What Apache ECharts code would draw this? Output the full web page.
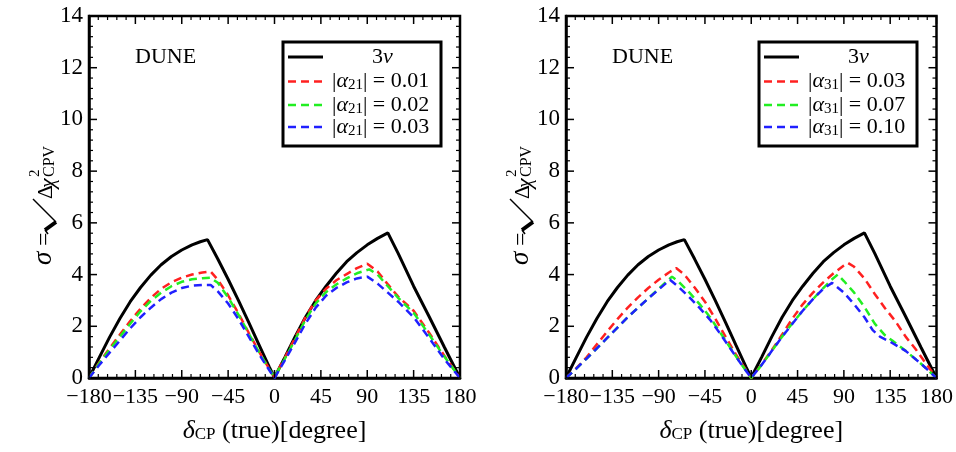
<!DOCTYPE html>
<html>
<head>
<meta charset="utf-8">
<script src="https://cdn.jsdelivr.net/npm/echarts@6/dist/echarts.min.js"></script>
<style>
  html, body { margin: 0; background: #fff; }
  #chart { width: 956px; height: 452px; }
</style>
</head>
<body>
<div id="chart"></div>
<script>
// x ticks (degrees), y ticks
var xTicks = [-180, -135, -90, -45, 0, 45, 90, 135, 180]
var yTicks = [0, 2, 4, 6, 8, 10, 12, 14]

// standard 3nu curve (same in both panels), [deltaCP, sigma]
var nu3 = [[-180, 0], [-170, 0.8], [-160, 1.58], [-150, 2.3], [-140, 2.95], [-130, 3.5], [-120, 3.98],
  [-110, 4.38], [-100, 4.7], [-90, 4.95], [-80, 5.15], [-72, 5.27], [-65, 5.35], [-55, 4.6], [-45, 3.82],
  [-35, 3.0], [-25, 2.15], [-15, 1.28], [-5, 0.42], [0, 0.02], [10, 0.8], [20, 1.6], [30, 2.35],
  [40, 3.0], [50, 3.55], [60, 4.05], [70, 4.5], [80, 4.85], [90, 5.15], [100, 5.4], [110, 5.61],
  [120, 4.82], [135, 3.55], [150, 2.38], [165, 1.18], [180, 0]]

// left panel, |alpha21|
var a21_001 = [[-180, 0], [-170, 0.6], [-160, 1.15], [-150, 1.68], [-140, 2.2], [-130, 2.68], [-120, 3.1],
  [-110, 3.45], [-100, 3.7], [-90, 3.88], [-80, 4.0], [-70, 4.08], [-62, 4.12], [-55, 3.8], [-45, 3.2],
  [-35, 2.5], [-25, 1.75], [-15, 1.02], [-5, 0.35], [0, 0.05], [10, 0.78], [20, 1.55], [30, 2.35],
  [40, 3.0], [50, 3.45], [60, 3.78], [70, 4.02], [80, 4.25], [90, 4.42], [100, 4.12], [110, 3.62],
  [120, 3.15], [135, 2.6], [150, 1.75], [165, 0.85], [180, 0]]
var a21_002 = [[-180, 0], [-170, 0.57], [-160, 1.1], [-150, 1.6], [-140, 2.1], [-130, 2.58], [-120, 2.98],
  [-110, 3.3], [-100, 3.55], [-90, 3.72], [-80, 3.82], [-70, 3.86], [-62, 3.88], [-55, 3.68], [-45, 3.12],
  [-35, 2.45], [-25, 1.72], [-15, 1.0], [-5, 0.33], [0, 0.05], [10, 0.74], [20, 1.48], [30, 2.25],
  [40, 2.88], [50, 3.32], [60, 3.62], [70, 3.85], [80, 4.05], [92, 4.2], [100, 4.0], [110, 3.55],
  [120, 3.1], [135, 2.52], [150, 1.68], [165, 0.82], [180, 0]]
var a21_003 = [[-180, 0], [-170, 0.5], [-160, 0.98], [-150, 1.45], [-140, 1.92], [-130, 2.35], [-120, 2.72],
  [-110, 3.05], [-100, 3.3], [-90, 3.48], [-80, 3.57], [-70, 3.6], [-62, 3.6], [-55, 3.35], [-45, 2.88],
  [-35, 2.28], [-25, 1.6], [-15, 0.92], [-5, 0.3], [0, 0], [10, 0.68], [20, 1.38], [30, 2.1],
  [40, 2.72], [50, 3.18], [60, 3.48], [70, 3.7], [80, 3.85], [90, 3.92], [100, 3.65], [110, 3.3],
  [120, 2.95], [135, 2.35], [150, 1.55], [165, 0.72], [180, 0]]

// right panel, |alpha31|
var a31_003 = [[-180, 0], [-170, 0.38], [-160, 0.8], [-150, 1.3], [-140, 1.8], [-130, 2.28], [-120, 2.72],
  [-110, 3.12], [-100, 3.48], [-90, 3.8], [-80, 4.08], [-73, 4.25], [-65, 4.0], [-55, 3.5], [-45, 2.95],
  [-35, 2.3], [-25, 1.6], [-15, 0.92], [-5, 0.3], [0, 0], [10, 0.52], [20, 1.08], [30, 1.68], [40, 2.3],
  [50, 2.85], [60, 3.3], [70, 3.7], [80, 4.05], [90, 4.35], [94, 4.45], [100, 4.3], [110, 3.85],
  [120, 3.25], [130, 2.7], [140, 2.2], [150, 1.6], [160, 1.1], [170, 0.55], [180, 0]]
var a31_007 = [[-180, 0], [-170, 0.36], [-160, 0.75], [-150, 1.15], [-140, 1.55], [-130, 1.95], [-120, 2.35],
  [-110, 2.72], [-100, 3.08], [-90, 3.45], [-77, 3.92], [-70, 3.7], [-60, 3.3], [-50, 2.85], [-40, 2.35],
  [-30, 1.75], [-20, 1.15], [-10, 0.55], [0, 0], [10, 0.5], [20, 1.05], [30, 1.6], [40, 2.12], [50, 2.6],
  [60, 3.05], [70, 3.48], [78, 3.8], [84, 4.0], [90, 3.75], [100, 3.3], [110, 2.75], [120, 2.1],
  [130, 1.65], [137, 1.45], [150, 1.05], [165, 0.55], [180, 0]]
var a31_010 = [[-180, 0], [-170, 0.36], [-160, 0.75], [-150, 1.15], [-140, 1.55], [-130, 1.95], [-120, 2.35],
  [-110, 2.72], [-100, 3.08], [-90, 3.42], [-79, 3.8], [-70, 3.5], [-60, 3.12], [-50, 2.7], [-40, 2.25],
  [-30, 1.7], [-20, 1.12], [-10, 0.55], [0, 0], [10, 0.5], [20, 1.05], [30, 1.6], [40, 2.1], [50, 2.6],
  [60, 3.05], [70, 3.45], [78.6, 3.68], [90, 3.3], [100, 2.85], [110, 2.35], [118, 1.85], [125, 1.6],
  [135, 1.4], [150, 1.05], [165, 0.55], [180, 0]]

var FONT = '"Liberation Serif", "DejaVu Serif", serif'
var RED = '#ff2020', GREEN = '#22ee22', BLUE = '#2020ff'
var MINOR = 5 // minor divisions between major ticks

var chart = echarts.init(document.getElementById('chart'))

function xAx (g) {
  return {
    type: 'value', gridIndex: g, position: 'bottom',
    min: xTicks[0], max: xTicks[xTicks.length - 1], interval: 45,
    axisLine: { show: true, onZero: false, lineStyle: { color: '#000', width: 2.5 } },
    axisTick: { show: false },
    splitLine: { show: false },
    axisLabel: {
      interval: 0, hideOverlap: false, showMinLabel: true, showMaxLabel: true,
      margin: 8, color: '#000', fontFamily: FONT, fontSize: 22,
      formatter: function (v) { return v < 0 ? '\u2212' + Math.abs(v) : String(v) }
    },
    name: '{d|δ}{sub|CP} (true)[degree]',
    nameLocation: 'middle',
    nameGap: 40,
    nameTextStyle: {
      color: '#000', fontFamily: FONT, fontSize: 26,
      rich: {
        d: { fontFamily: FONT, fontSize: 26, fontStyle: 'italic', color: '#000' },
        sub: { fontFamily: FONT, fontSize: 17, color: '#000', padding: [8, 0, 0, 0] }
      }
    }
  }
}

function yAx (g) {
  return {
    type: 'value', gridIndex: g, position: 'left',
    min: yTicks[0], max: yTicks[yTicks.length - 1], interval: 2,
    axisLine: { show: true, onZero: false, lineStyle: { color: '#000', width: 2.5 } },
    axisTick: { show: false },
    splitLine: { show: false },
    axisLabel: {
      interval: 0, hideOverlap: false, showMinLabel: true, showMaxLabel: true,
      margin: 6, color: '#000', fontFamily: FONT, fontSize: 23
    }
  }
}

// frame ticks on all four sides, placed through the axes' own coordinate mapping
function tickData () {
  var out = []
  function add (axis, ticks) {
    ticks.forEach(function (v, i) {
      out.push([axis, v, 1])
      if (i < ticks.length - 1) {
        var step = (ticks[i + 1] - v) / MINOR
        for (var k = 1; k < MINOR; k++) out.push([axis, v + k * step, 0])
      }
    })
  }
  add(0, xTicks)
  add(1, yTicks)
  return out
}

function tickSeries (g) {
  var x0 = xTicks[0], x1 = xTicks[xTicks.length - 1]
  var y0 = yTicks[0], y1 = yTicks[yTicks.length - 1]
  return {
    type: 'custom', xAxisIndex: g, yAxisIndex: g, silent: true, z: 6,
    data: tickData(),
    renderItem: function (params, api) {
      var axis = api.value(0), v = api.value(1), major = api.value(2) === 1
      var len = major ? 8 : 4
      var w = major ? 1.5 : 1.2
      var segs
      if (axis === 0) {
        var b = api.coord([v, y0]), t = api.coord([v, y1])
        segs = [[b[0], b[1], b[0], b[1] - len], [t[0], t[1], t[0], t[1] + len]]
      } else {
        var l = api.coord([x0, v]), r = api.coord([x1, v])
        segs = [[l[0], l[1], l[0] + len, l[1]], [r[0], r[1], r[0] - len, r[1]]]
      }
      return {
        type: 'group',
        children: segs.map(function (s) {
          return { type: 'line', shape: { x1: s[0], y1: s[1], x2: s[2], y2: s[3] }, style: { stroke: '#000', lineWidth: w } }
        })
      }
    }
  }
}

function line (name, data, g, color, dashed) {
  return {
    name: name, type: 'line', xAxisIndex: g, yAxisIndex: g,
    data: data, symbol: 'none', showSymbol: false,
    lineStyle: { color: color, width: dashed ? 2.5 : 3, type: dashed ? [8, 5] : 'solid' },
    itemStyle: { color: color },
    z: dashed ? 3 : 2
  }
}

var richLeg = {
  i: { fontFamily: FONT, fontSize: 22, fontStyle: 'italic', fill: '#000' },
  s: { fontFamily: FONT, fontSize: 15, fill: '#000', padding: [8, 0, 0, 0] },
  n: { fontFamily: FONT, fontSize: 22, fill: '#000' }
}

// legend drawn as a framed box: line samples + labels
function legendBox (x, sub, values, colors) {
  var rows = [57, 81.5, 105, 127]
  var kids = [{ type: 'rect', shape: { x: 0, y: 0, width: 158, height: 104 },
    style: { fill: '#fff', stroke: '#000', lineWidth: 3 } }]
  kids.push({ type: 'line', shape: { x1: 5, y1: rows[0] - 42, x2: 40, y2: rows[0] - 42 }, style: { stroke: '#000', lineWidth: 3 } })
  kids.push({ type: 'text', x: 89, y: rows[0] - 42, style: { text: '{n|3}{i|ν}', rich: richLeg, verticalAlign: 'middle' } })
  for (var k = 0; k < 3; k++) {
    var cy = rows[k + 1] - 42
    kids.push({ type: 'line', shape: { x1: 5, y1: cy, x2: 40, y2: cy }, style: { stroke: colors[k], lineWidth: 2.5, lineDash: [8, 5] } })
    kids.push({ type: 'text', x: 49, y: cy, style: { text: '{n||}{i|α}{s|' + sub + '}{n|| = ' + values[k] + '}', rich: richLeg, verticalAlign: 'middle' } })
  }
  return { type: 'group', x: x, y: 42, z: 100, children: kids }
}

function yTitle (x) {
  var f = function (size, italic) { return (italic ? 'italic ' : '') + size + 'px ' + FONT }
  return {
    type: 'group', x: x, y: 203, rotation: Math.PI / 2,
    children: [
      { type: 'text', x: -62, y: -2, style: { text: 'σ', font: f(27, true), fill: '#000', verticalAlign: 'middle' } },
      { type: 'text', x: -43, y: -1, style: { text: '=', font: f(24), fill: '#000', verticalAlign: 'middle' } },
      { type: 'polyline', shape: { points: [[-31, 2], [-27, -1]] }, style: { stroke: '#000', lineWidth: 1.5, fill: null } },
      { type: 'polyline', shape: { points: [[-27, -1], [-19, 10]] }, style: { stroke: '#000', lineWidth: 4, fill: null } },
      { type: 'polyline', shape: { points: [[-19, 10], [4, -13]] }, style: { stroke: '#000', lineWidth: 1.5, fill: null } },
      { type: 'text', x: 4, y: 0, style: { text: 'Δ', font: f(22), fill: '#000', verticalAlign: 'middle' } },
      { type: 'text', x: 15, y: 2, style: { text: 'χ', font: f(22, true), fill: '#000', verticalAlign: 'middle' } },
      { type: 'text', x: 26, y: -11, style: { text: '2', font: f(15), fill: '#000', verticalAlign: 'middle' } },
      { type: 'text', x: 26, y: 4, style: { text: 'CPV', font: f(16), fill: '#000', verticalAlign: 'middle' } }
    ]
  }
}

var option = {
  animation: false,
  backgroundColor: '#fff',
  grid: [
    { left: 89, top: 16, width: 371, height: 362, show: true, borderColor: '#000', borderWidth: 2.5 },
    { left: 566, top: 16, width: 371, height: 362, show: true, borderColor: '#000', borderWidth: 2.5 }
  ],
  xAxis: [xAx(0), xAx(1)],
  yAxis: [yAx(0), yAx(1)],
  graphic: [
    { type: 'text', left: 135, top: 46, style: { text: 'DUNE', font: '22px ' + FONT, fill: '#000' } },
    { type: 'text', left: 612, top: 46, style: { text: 'DUNE', font: '22px ' + FONT, fill: '#000' } },
    legendBox(283, '21', ['0.01', '0.02', '0.03'], [RED, GREEN, BLUE]),
    legendBox(759, '31', ['0.03', '0.07', '0.10'], [RED, GREEN, BLUE]),
    yTitle(46),
    yTitle(523)
  ],
  series: [
    tickSeries(0),
    tickSeries(1),
    line('3ν', nu3, 0, '#000', false),
    line('|α21| = 0.01', a21_001, 0, RED, true),
    line('|α21| = 0.02', a21_002, 0, GREEN, true),
    line('|α21| = 0.03', a21_003, 0, BLUE, true),
    line('3ν', nu3, 1, '#000', false),
    line('|α31| = 0.03', a31_003, 1, RED, true),
    line('|α31| = 0.07', a31_007, 1, GREEN, true),
    line('|α31| = 0.10', a31_010, 1, BLUE, true)
  ]
}

chart.setOption(option)
</script>
</body>
</html>
